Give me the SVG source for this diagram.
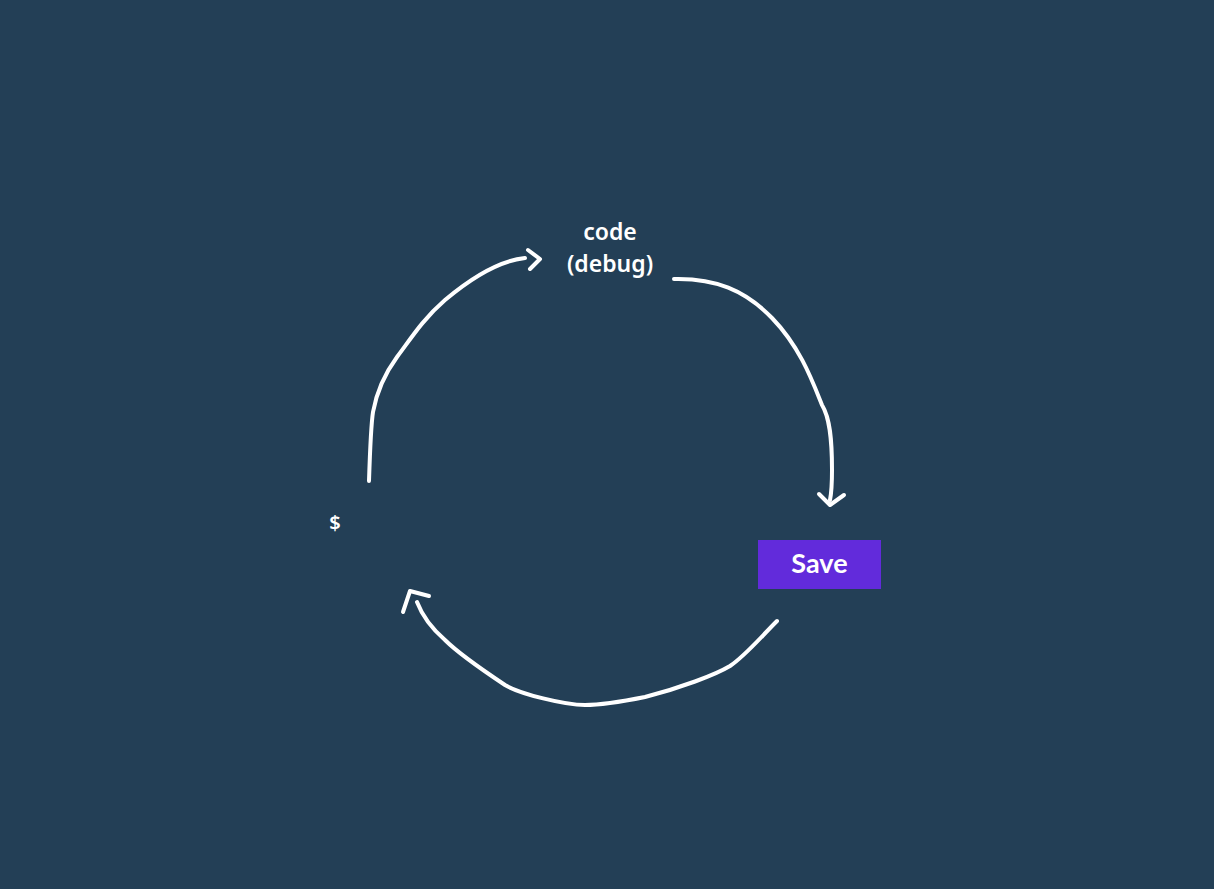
<svg xmlns="http://www.w3.org/2000/svg" width="1214" height="889" viewBox="0 0 1214 889">
<style>
.c{fill:none;stroke:#ffffff;stroke-width:4;stroke-linecap:round;stroke-linejoin:round}
.h{font-family:"Noto Sans","Liberation Sans",sans-serif;fill:#ffffff;text-anchor:middle;font-weight:600}
</style>
<rect width="1214" height="889" fill="#233f56"/>
<g id="connectors">
<path class="c" d="M369,481 C370,450 371,425 373,412 C377,390 386,372 397,357 C410,340 422,320 445,300 C470,279 497,261 525,258"/>
<path class="c" d="M528,250 L540,259 L530,269"/>
<path class="c" d="M674,279 C715,278 745,290 772,318 C800,347 812,380 822,405 C830,418 832,440 832,470 C832,485 831,495 830,500"/>
<path class="c" d="M819,494 L830,505 L844,495"/>
<path class="c" d="M777,621 C760,638 745,656 730,666 C715,675 680,688 645,697 C625,701 600,705 585,705 C565,705 520,694 505,685 C490,675 460,655 445,640 C430,627 422,615 417,602"/>
<path class="c" d="M403,612 L410,591 L429,596"/>
</g>
<g id="code">
<text class="h" x="610" y="240" font-size="23">code</text>
<text class="h" x="610" y="272" font-size="23">(debug)</text>
</g>
<g id="save">
<rect x="758" y="540" width="123" height="49" fill="#622bdb"/>
<text x="819.5" y="573" font-family="Lato,'Open Sans',sans-serif" font-weight="bold" font-size="27" fill="#ffffff" text-anchor="middle">Save</text>
</g>
<g id="dollar">
<text class="h" x="335" y="530" font-size="20">$</text>
</g>
</svg>
